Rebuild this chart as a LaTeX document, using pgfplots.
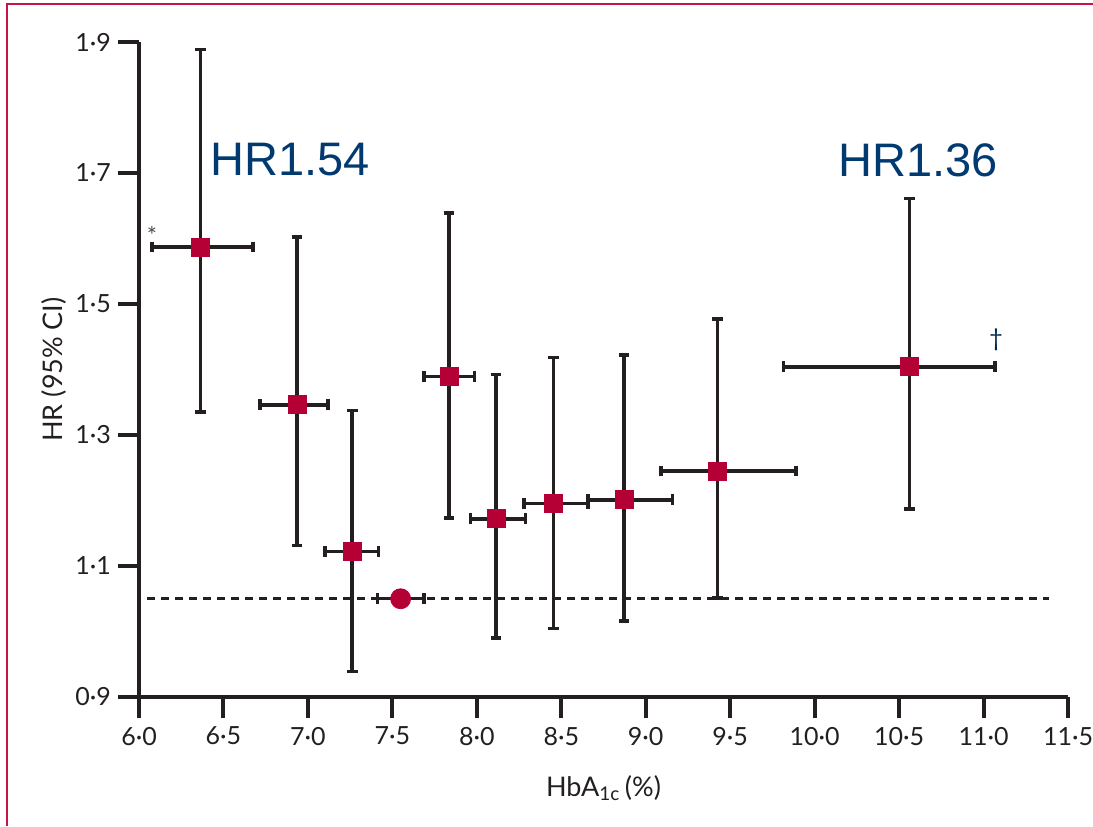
\documentclass[border=0pt]{standalone}
\usepackage{fontspec}
\setmainfont{Lato}
\newfontfamily\arialf{Liberation Sans}
\usepackage{pgfplots}
\usepackage{pgfplotstable}
\pgfplotsset{compat=1.18}
\definecolor{lancetred}{RGB}{180,0,52}
\definecolor{hrblue}{RGB}{0,58,112}
\definecolor{axisblack}{RGB}{35,31,32}
\definecolor{framecol}{RGB}{200,20,70}

\pgfplotstableread{
x      y      xm     xp     ym     yp
6.365  1.587  0.288  0.310  0.252  0.302
6.935  1.346  0.219  0.184  0.215  0.256
7.262  1.122  0.161  0.157  0.183  0.215
7.835  1.389  0.148  0.150  0.216  0.250
8.114  1.172  0.153  0.173  0.182  0.220
8.453  1.195  0.174  0.205  0.190  0.223
8.871  1.201  0.213  0.289  0.185  0.221
9.424  1.245  0.334  0.466  0.194  0.232
10.560 1.404  0.745  0.508  0.217  0.257
}\hrdata

\pgfplotstableread{
x      y      xm     xp
7.549  1.050  0.136  0.138
}\refdata

\begin{document}
\begin{tikzpicture}
\begin{axis}[
  at={(69.5pt,64.5pt)}, anchor=south west,
  scale only axis, width=464.5pt, height=327.5pt,
  xmin=6, xmax=11.5, ymin=0.9, ymax=1.9,
  axis lines*=left,
  axis line style={line width=2pt, axisblack},
  xtick={6,6.5,7,7.5,8,8.5,9,9.5,10,10.5,11,11.5},
  xticklabels={6·0,6·5,7·0,7·5,8·0,8·5,9·0,9·5,10·0,10·5,11·0,11·5},
  ytick={0.9,1.1,1.3,1.5,1.7,1.9},
  yticklabels={0·9,1·1,1·3,1·5,1·7,1·9},
  tick align=outside,
  major tick length=10.5pt,
  tick style={line width=2pt, axisblack},
  ticklabel style={font=\fontsize{12.5}{15}\selectfont, text=axisblack},
  xticklabel style={yshift=-1pt},
  clip=false,
  every axis x label/.style={at={(axis description cs:0.5,0)}, yshift=-45.5pt, anchor=center},
  every axis y label/.style={at={(axis description cs:0,0.5)}, xshift=-42.5pt, rotate=90, anchor=center},
  label style={font=\fontsize{13.5}{16}\selectfont, text=axisblack},
  xlabel={HbA\textsubscript{1c}\,(\%)},
  ylabel={HR (95\% CI)},
]
\addplot[axisblack, line width=1.5pt, dash pattern=on 4pt off 3pt] coordinates {(6.05,1.05) (11.39,1.05)};

\addplot[only marks, mark=square*, mark size=4.5pt,
  mark options={fill=lancetred, draw=lancetred},
  error bars/.cd, x dir=both, x explicit, y dir=both, y explicit,
  error bar style={line width=1.7pt, axisblack},
  error mark options={rotate=90, line width=1.7pt, mark size=2.7pt, axisblack}]
  table[x=x, y=y, x error plus=xp, x error minus=xm, y error plus=yp, y error minus=ym] {\hrdata};

\addplot[only marks, mark=*, mark size=5pt,
  mark options={fill=lancetred, draw=lancetred},
  error bars/.cd, x dir=both, x explicit,
  error bar style={line width=1.7pt, axisblack},
  error mark options={rotate=90, line width=1.7pt, mark size=2.7pt, axisblack}]
  table[x=x, y=y, x error plus=xp, x error minus=xm] {\refdata};

\node[text=hrblue, font=\arialf\fontsize{23.5}{26}\selectfont] at (axis cs:6.894,1.720) {HR1.54};
\node[text=hrblue, font=\arialf\fontsize{23.5}{26}\selectfont] at (axis cs:10.612,1.720) {HR1.36};
\node[text=axisblack!80, font=\fontsize{12}{14}\selectfont] at (axis cs:6.077,1.605) {*};
\node[text=hrblue!70!black, font=\fontsize{12}{14}\selectfont] at (axis cs:11.074,1.445) {†};
\end{axis}
\draw[framecol, line width=1pt] (3.5pt,0pt) -- (3.5pt,410.75pt) -- (546.5pt,410.75pt);
\pgfresetboundingbox
\useasboundingbox (0,0) rectangle (546.5pt,413pt);
\end{tikzpicture}
\end{document}
